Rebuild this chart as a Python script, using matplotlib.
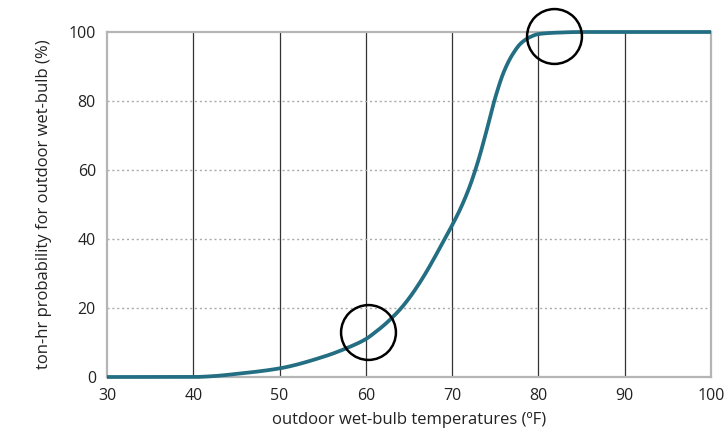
import matplotlib
matplotlib.use("Agg")
import matplotlib.pyplot as plt
import numpy as np

# 曲线读数（温度 °F，概率 %）
temps = [30, 35, 40, 42, 45, 50, 55, 58, 60, 61, 62, 63, 64, 65, 66, 67, 68, 69, 70,
         71, 72, 73, 74, 75, 76, 77, 78, 79, 80, 82, 85, 90, 100]
prob = [0.0, 0.0, 0.0, 0.2, 0.9, 2.5, 5.8, 8.6, 11.0, 12.8, 14.8, 17.1, 19.7, 22.8, 26.4, 30.4, 34.8, 39.4, 44.0,
        49.0, 55.0, 62.5, 71.5, 81.0, 88.5, 93.5, 96.8, 98.5, 99.4, 99.8, 100.0, 100.0, 100.0]

# 圆圈标注位置
circle_x = [60.3, 81.8]
circle_y = [13.0, 98.7]

x_ticks = [30, 40, 50, 60, 70, 80, 90, 100]
y_ticks = [0, 20, 40, 60, 80, 100]


def pchip(x, y, xs):
    # 单调三次插值（Fritsch-Carlson），不用 scipy
    x = np.asarray(x, float)
    y = np.asarray(y, float)
    h = np.diff(x)
    d = np.diff(y) / h
    m = np.zeros_like(y)
    for i in range(1, len(y) - 1):
        if d[i - 1] * d[i] > 0:
            w1 = 2 * h[i] + h[i - 1]
            w2 = h[i] + 2 * h[i - 1]
            m[i] = (w1 + w2) / (w1 / d[i - 1] + w2 / d[i])
    m[0] = d[0]
    m[-1] = d[-1]
    idx = np.clip(np.searchsorted(x, xs) - 1, 0, len(h) - 1)
    t = (xs - x[idx]) / h[idx]
    h00 = 2 * t ** 3 - 3 * t ** 2 + 1
    h10 = t ** 3 - 2 * t ** 2 + t
    h01 = -2 * t ** 3 + 3 * t ** 2
    h11 = t ** 3 - t ** 2
    return h00 * y[idx] + h10 * h[idx] * m[idx] + h01 * y[idx + 1] + h11 * h[idx] * m[idx + 1]


plt.rcParams['font.family'] = ['Open Sans', 'DejaVu Sans']

fig = plt.figure(figsize=(7.28, 4.34), dpi=100)
ax = fig.add_axes([107 / 728, 1 - 377 / 434, (711 - 107) / 728, (377 - 32) / 434])

xs = np.linspace(30, 100, 1000)
ys = pchip(temps, prob, xs)

ax.plot(xs, ys, color='#236e82', lw=2.7, solid_capstyle='butt', zorder=3, clip_on=False)
ax.plot(circle_x, circle_y, 'o', ms=39.5, mfc='none', mec='black', mew=1.8, zorder=4, clip_on=False)

ax.set_xlim(30, 100)
ax.set_ylim(0, 100)
ax.set_xticks(x_ticks)
ax.set_yticks(y_ticks)
ax.tick_params(length=0, labelsize=11.5, colors='#222222', pad=8)

for xv in x_ticks[1:-1]:
    ax.axvline(xv, color='#333333', lw=0.9, zorder=1)
for yv in y_ticks[1:-1]:
    ax.axhline(yv, color='#aaaaaa', lw=1.0, ls=(0, (1.5, 2)), zorder=1)

for s in ax.spines.values():
    s.set_color('#b5b5b5')
    s.set_linewidth(1.6)

ax.set_xlabel('outdoor wet-bulb temperatures (ºF)', fontsize=12, color='#222222', labelpad=6)
ax.set_ylabel('ton-hr probability for outdoor wet-bulb (%)', fontsize=12, color='#222222', labelpad=12)

fig.savefig('out.png', dpi=100)
